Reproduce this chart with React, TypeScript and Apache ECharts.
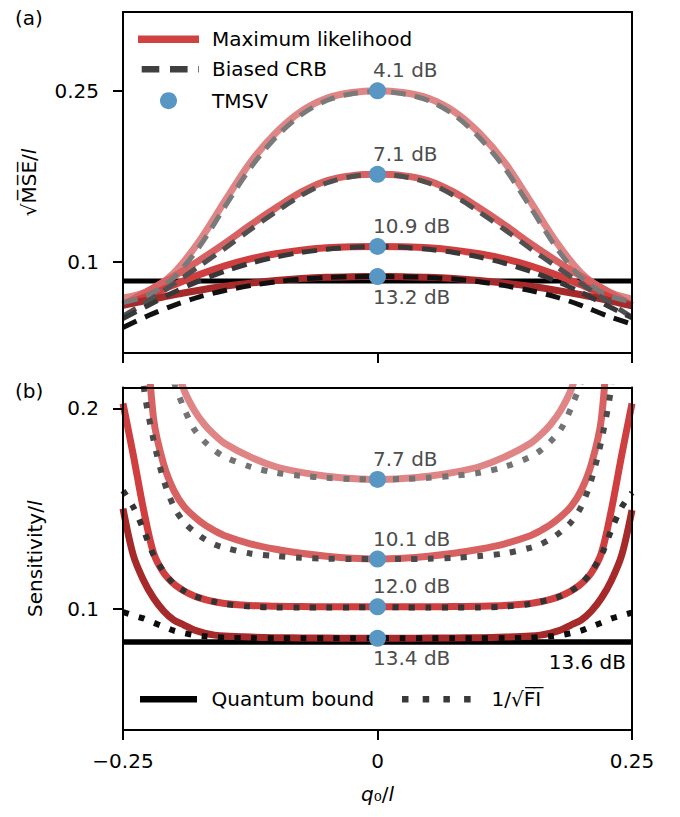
import { useEffect, useRef } from 'react';
import * as echarts from 'echarts';

const FONT = 'DejaVu Sans';

// ---------- Panel (a): sqrt(MSE)/l ----------
const XA = [-0.25, -0.225, -0.2, -0.175, -0.15, -0.125, -0.1, -0.075, -0.05, -0.025, 0,
  0.025, 0.05, 0.075, 0.1, 0.125, 0.15, 0.175, 0.2, 0.225, 0.25];
const ML_A_41 = [0.068, 0.074, 0.090, 0.118, 0.153, 0.187, 0.213, 0.232, 0.2435, 0.2485, 0.250,
  0.2485, 0.2435, 0.232, 0.213, 0.187, 0.153, 0.118, 0.090, 0.074, 0.067];
const ML_A_71 = [0.062, 0.0745, 0.087, 0.101, 0.116, 0.132, 0.147, 0.161, 0.171, 0.1755, 0.1766,
  0.1755, 0.171, 0.161, 0.147, 0.132, 0.116, 0.101, 0.087, 0.0745, 0.0615];
const ML_A_109 = [0.062, 0.070, 0.0795, 0.0885, 0.0962, 0.1023, 0.1068, 0.1100, 0.1120, 0.1129, 0.1132,
  0.1129, 0.1120, 0.1100, 0.1068, 0.1023, 0.0962, 0.0885, 0.0795, 0.070, 0.0615];
const ML_A_132 = [0.0615, 0.0662, 0.0708, 0.0748, 0.0782, 0.0810, 0.0833, 0.0850, 0.0861, 0.0866, 0.0868,
  0.0866, 0.0861, 0.0850, 0.0833, 0.0810, 0.0782, 0.0748, 0.0708, 0.0662, 0.061];
const CRB_A_41 = [0.064, 0.0705, 0.086, 0.113, 0.148, 0.182, 0.209, 0.229, 0.2415, 0.2475, 0.2495,
  0.2475, 0.2415, 0.229, 0.209, 0.182, 0.148, 0.113, 0.086, 0.0705, 0.0645];
const CRB_A_71 = [0.052, 0.0655, 0.0805, 0.096, 0.1115, 0.128, 0.1435, 0.158, 0.169, 0.1748, 0.1766,
  0.1748, 0.169, 0.158, 0.1435, 0.128, 0.1115, 0.096, 0.0805, 0.0655, 0.051];
const CRB_A_109 = [0.050, 0.0615, 0.073, 0.083, 0.0915, 0.0985, 0.104, 0.108, 0.1107, 0.1125, 0.1132,
  0.1125, 0.1107, 0.108, 0.104, 0.0985, 0.0915, 0.083, 0.073, 0.0615, 0.0505];
const CRB_A_132 = [0.042, 0.0525, 0.0615, 0.069, 0.0745, 0.0788, 0.0822, 0.0846, 0.086, 0.0866, 0.0868,
  0.0866, 0.086, 0.0846, 0.0822, 0.0788, 0.0745, 0.069, 0.0615, 0.0525, 0.045];
const QB_A = 0.0828;
const TMSV_A = [0.25, 0.1766, 0.1132, 0.0868];
const TMSV_A_LABELS = ['4.1 dB', '7.1 dB', '10.9 dB', '13.2 dB'];
const Y_A_TICKS = [0.1, 0.25];
const Y_A_MIN = 0.0196;
const Y_A_MAX = 0.3193;

// ---------- Panel (b): Sensitivity/l ----------
const XB = [-0.25, -0.24, -0.23, -0.22, -0.21, -0.2, -0.19, -0.18, -0.17, -0.16, -0.15, -0.125, -0.1, -0.075, -0.05, -0.025, 0,
  0.025, 0.05, 0.075, 0.1, 0.125, 0.15, 0.16, 0.17, 0.18, 0.19, 0.2, 0.21, 0.22, 0.23, 0.24, 0.25];
const ML_B_77 = [0.40, 0.34, 0.30, 0.27, 0.245, 0.225, 0.2091, 0.1991, 0.1920, 0.1867, 0.1825, 0.1758, 0.1709, 0.1681, 0.1662, 0.1651, 0.1646,
  0.1651, 0.1662, 0.1681, 0.1709, 0.1758, 0.1825, 0.1867, 0.1920, 0.1991, 0.2091, 0.225, 0.245, 0.27, 0.30, 0.34, 0.40];
const FI_B_77 = [0.40, 0.33, 0.28, 0.25, 0.228, 0.213, 0.200, 0.1895, 0.1835, 0.179, 0.1758, 0.1709, 0.1679, 0.1664, 0.1654, 0.1648, 0.1646,
  0.1648, 0.1654, 0.1664, 0.1679, 0.1709, 0.1758, 0.179, 0.1835, 0.1895, 0.200, 0.213, 0.228, 0.25, 0.28, 0.33, 0.40];
const ML_B_101 = [0.40, 0.32, 0.26, 0.195, 0.172, 0.159, 0.151, 0.146, 0.142, 0.139, 0.1365, 0.1325, 0.1298, 0.1278, 0.1263, 0.1253, 0.1249,
  0.1253, 0.1263, 0.1278, 0.1298, 0.1325, 0.1365, 0.139, 0.142, 0.146, 0.151, 0.159, 0.172, 0.195, 0.26, 0.32, 0.40];
const FI_B_101 = [0.40, 0.30, 0.213, 0.1842, 0.1642, 0.1509, 0.1432, 0.1385, 0.1349, 0.1322, 0.1305, 0.1277, 0.1264, 0.1255, 0.1251, 0.1249, 0.1249,
  0.1249, 0.1251, 0.1255, 0.1264, 0.1277, 0.1305, 0.1322, 0.1349, 0.1385, 0.1432, 0.1509, 0.1642, 0.1842, 0.213, 0.30, 0.40];
const ML_B_120 = [0.2024, 0.177, 0.150, 0.128, 0.118, 0.1125, 0.109, 0.1065, 0.1048, 0.1036, 0.1028, 0.1018, 0.1014, 0.1012, 0.1011, 0.1011, 0.1011,
  0.1011, 0.1011, 0.1012, 0.1014, 0.1018, 0.1028, 0.1036, 0.1048, 0.1065, 0.109, 0.1125, 0.118, 0.128, 0.150, 0.177, 0.2024];
const FI_B_120 = [0.159, 0.1509, 0.1397, 0.1269, 0.1186, 0.1125, 0.109, 0.1065, 0.1048, 0.1036, 0.1025, 0.1012, 0.1008, 0.1007, 0.1007, 0.1008, 0.1009,
  0.1008, 0.1007, 0.1007, 0.1008, 0.1012, 0.1025, 0.1036, 0.1048, 0.1065, 0.109, 0.1125, 0.1186, 0.1269, 0.1397, 0.1509, 0.158];
const ML_B_134 = [0.150, 0.127, 0.1145, 0.1055, 0.099, 0.0945, 0.092, 0.0895, 0.088, 0.087, 0.0865, 0.086, 0.0857, 0.0856, 0.0855, 0.0854, 0.0854,
  0.0854, 0.0855, 0.0856, 0.0857, 0.086, 0.0865, 0.087, 0.088, 0.0895, 0.092, 0.0945, 0.099, 0.1055, 0.1145, 0.127, 0.1493];
const FI_B_134 = [0.0985, 0.0968, 0.0953, 0.0932, 0.0912, 0.0892, 0.0880, 0.0870, 0.0864, 0.0860, 0.0857, 0.0855, 0.0854, 0.0854, 0.0854, 0.0854, 0.0854,
  0.0854, 0.0854, 0.0854, 0.0854, 0.0855, 0.0857, 0.0860, 0.0864, 0.0870, 0.0880, 0.0892, 0.0912, 0.0932, 0.0953, 0.0968, 0.0982];
const QB_B = 0.0835;
const QB_B_LABEL = '13.6 dB';
const TMSV_B = [0.1646, 0.1249, 0.1011, 0.0854];
const TMSV_B_LABELS = ['7.7 dB', '10.1 dB', '12.0 dB', '13.4 dB'];
const Y_B_TICKS = [0.1, 0.2];
const Y_B_MIN = 0.0397;
const Y_B_MAX = 0.2104;

const X_MIN = -0.25;
const X_MAX = 0.25;
const X_INTERVAL = 0.25;

const LEGEND_ML = 'Maximum likelihood';
const LEGEND_CRB = 'Biased CRB';
const LEGEND_TMSV = 'TMSV';
const LEGEND_QB = 'Quantum bound';
const LEGEND_FI = '1/\u221AF\u0305I\u0305';

const SHADES_ML = ['#e08585', '#d86262', '#cf3f3f', '#a62a2a'];
const SHADES_CRB = ['#7a7a7a', '#505050', '#383838', '#111111'];
const SHADES_FI = ['#737373', '#4a4a4a', '#333333', '#0d0d0d'];
const BLUE = '#5896c4';

const pairs = (xs: number[], ys: number[]) => xs.map((x, i) => [x, ys[i]]);

function lineSeries(name: string, xs: number[], ys: number[], color: string, width: number,
  dash: any, grid: number, z: number) {
  return {
    type: 'line', name, xAxisIndex: grid * 2, yAxisIndex: grid * 2,
    data: pairs(xs, ys), symbol: 'none', silent: true, z,
    smooth: 0.3,
    itemStyle: { color },
    lineStyle: { color, width, type: dash, cap: 'butt', join: 'round' },
  };
}

function fmtTick(v: number) {
  const s = String(Math.round(v * 1000) / 1000);
  return s.replace('-', '\u2212');
}

const richItalic = { i: { fontStyle: 'italic', fontSize: 20, fontFamily: FONT, color: '#000' } };

function xAxes(grid: number, showLabels: boolean) {
  return [
    {
      type: 'value', gridIndex: grid, position: 'bottom', min: X_MIN, max: X_MAX, interval: X_INTERVAL, z: 10,
      axisLine: { show: true, onZero: false, lineStyle: { color: '#000', width: 2 } },
      axisTick: { show: true, length: 10, lineStyle: { color: '#000', width: 2 } },
      axisLabel: { show: showLabels, fontSize: 20, color: '#000', fontFamily: FONT, margin: 21, formatter: fmtTick, showMinLabel: true, showMaxLabel: true },
      splitLine: { show: false },
      name: showLabels ? '{i|q}\u2080/{i|l}' : '', nameLocation: 'middle', nameGap: 54,
      nameTextStyle: { fontSize: 20, color: '#000', fontFamily: FONT, rich: richItalic },
    },
    {
      type: 'value', gridIndex: grid, position: 'top', min: X_MIN, max: X_MAX, z: 10,
      axisLine: { show: true, onZero: false, lineStyle: { color: '#000', width: 2 } },
      axisTick: { show: false }, axisLabel: { show: false }, splitLine: { show: false },
    },
  ];
}

function yAxes(grid: number, min: number, max: number, ticks: number[], name: string, gap: number) {
  return [
    {
      type: 'value', gridIndex: grid, position: 'left', min, max, z: 10,
      axisLine: { show: true, onZero: false, lineStyle: { color: '#000', width: 2 } },
      axisTick: { show: true, length: 10, customValues: ticks, lineStyle: { color: '#000', width: 2 } },
      axisLabel: { show: true, customValues: ticks, fontSize: 20, color: '#000', fontFamily: FONT, margin: 24, formatter: fmtTick },
      splitLine: { show: false },
      name, nameLocation: 'middle', nameGap: gap,
      nameTextStyle: { fontSize: 20, color: '#000', fontFamily: FONT, rich: richItalic },
    },
    {
      type: 'value', gridIndex: grid, position: 'right', min, max, z: 10,
      axisLine: { show: true, onZero: false, lineStyle: { color: '#000', width: 2 } },
      axisTick: { show: false }, axisLabel: { show: false }, splitLine: { show: false },
    },
  ];
}

function tmsvSeries(grid: number, ys: number[], labels: string[]) {
  return {
    type: 'scatter', name: LEGEND_TMSV, xAxisIndex: grid * 2, yAxisIndex: grid * 2, z: 6, silent: true,
    symbol: 'circle', symbolSize: 17, itemStyle: { color: BLUE, opacity: 1 },
    data: ys.map((y, i) => ({
      value: [0, y],
      label: {
        show: true, formatter: labels[i], position: 'inside', align: 'left', verticalAlign: 'middle',
        offset: [-4.5, i === ys.length - 1 ? 20 : -20.5],
        fontSize: 20, fontFamily: FONT, color: '#4d4d4d',
      },
    })),
  };
}

function legendText(text: string, x: number, y: number) {
  return { type: 'text', x, y, silent: true, style: { text, fontSize: 20, fontFamily: FONT, fill: '#000', verticalAlign: 'middle' } };
}
function legendLine(x1: number, x2: number, y: number, stroke: string, lineWidth: number, lineDash?: number[]) {
  return { type: 'line', silent: true, shape: { x1, y1: y, x2, y2: y }, style: { stroke, lineWidth, lineDash: lineDash || null, lineCap: 'butt' } };
}

export default function App() {
  const ref = useRef<HTMLDivElement>(null);
  useEffect(() => {
    document.body.style.margin = '0';
    const chart = echarts.init(ref.current as HTMLDivElement, undefined, { renderer: 'svg' });
    const series: any[] = [];
    // panel (a)
    series.push({ ...lineSeries(LEGEND_QB, [X_MIN, X_MAX], [QB_A, QB_A], '#000', 5, 'solid', 0, 1), smooth: false });
    [ML_A_41, ML_A_71, ML_A_109, ML_A_132].forEach((ys, i) =>
      series.push(lineSeries(LEGEND_ML + ' ' + TMSV_A_LABELS[i], XA, ys, SHADES_ML[i], 7, 'solid', 0, 2)));
    [CRB_A_41, CRB_A_71, CRB_A_109, CRB_A_132].forEach((ys, i) =>
      series.push(lineSeries(LEGEND_CRB + ' ' + TMSV_A_LABELS[i], XA, ys, SHADES_CRB[i], 5, [15, 9], 0, 3)));
    series.push(tmsvSeries(0, TMSV_A, TMSV_A_LABELS));
    // panel (b)
    series.push({
      ...lineSeries(LEGEND_QB, [X_MIN, X_MAX], [QB_B, QB_B], '#000', 5.5, 'solid', 1, 1), smooth: false,
      endLabel: {
        show: true, formatter: QB_B_LABEL, fontSize: 20, fontFamily: FONT, color: '#000',
        align: 'right', verticalAlign: 'middle', distance: 0, offset: [-6, 19.5],
      },
    });
    [ML_B_77, ML_B_101, ML_B_120, ML_B_134].forEach((ys, i) =>
      series.push(lineSeries(LEGEND_ML + ' ' + TMSV_B_LABELS[i], XB, ys, SHADES_ML[i], 7, 'solid', 1, 2)));
    [FI_B_77, FI_B_101, FI_B_120, FI_B_134].forEach((ys, i) =>
      series.push(lineSeries(LEGEND_FI + ' ' + TMSV_B_LABELS[i], XB, ys, SHADES_FI[i], 6, [6, 10.5], 1, 3)));
    series.push(tmsvSeries(1, TMSV_B, TMSV_B_LABELS));

    chart.setOption({
      animation: false,
      textStyle: { fontFamily: FONT },
      grid: [
        { left: 123, top: 12, width: 509, height: 341, show: false },
        { left: 123, top: 387.5, width: 509, height: 342.5, show: false },
      ],
      xAxis: [...xAxes(0, false), ...xAxes(1, true)],
      yAxis: [
        ...yAxes(0, Y_A_MIN, Y_A_MAX, Y_A_TICKS, '\u221AM\u0305S\u0305E\u0305/{i|l}', 84),
        ...yAxes(1, Y_B_MIN, Y_B_MAX, Y_B_TICKS, 'Sensitivity/{i|l}', 78),
      ],
      graphic: [
        { type: 'text', left: 15, top: 8, style: { text: '(a)', fontSize: 20, fontFamily: FONT, fill: '#000' } },
        { type: 'text', left: 15, top: 381, style: { text: '(b)', fontSize: 20, fontFamily: FONT, fill: '#000' } },
        // legend (a)
        legendLine(138, 199, 39.3, '#d04242', 7.5),
        legendText(LEGEND_ML, 212, 38.6),
        legendLine(141.7, 199, 69.3, '#404040', 6.5, [17.6, 10.7]),
        legendText(LEGEND_CRB, 212, 68.8),
        { type: 'circle', silent: true, shape: { cx: 168.5, cy: 100.7, r: 8.5 }, style: { fill: BLUE } },
        legendText(LEGEND_TMSV, 212, 100.5),
        // legend (b)
        legendLine(140, 197, 699.3, '#000', 6.5),
        legendText(LEGEND_QB, 211.5, 699),
        legendLine(402, 471, 699.3, '#3a3a3a', 6.5, [6.5, 14.2]),
        legendText(LEGEND_FI, 491.5, 699),
      ],
      series,
    });
    return () => chart.dispose();
  }, []);
  return <div ref={ref} style={{ width: 680, height: 817 }} />;
}
